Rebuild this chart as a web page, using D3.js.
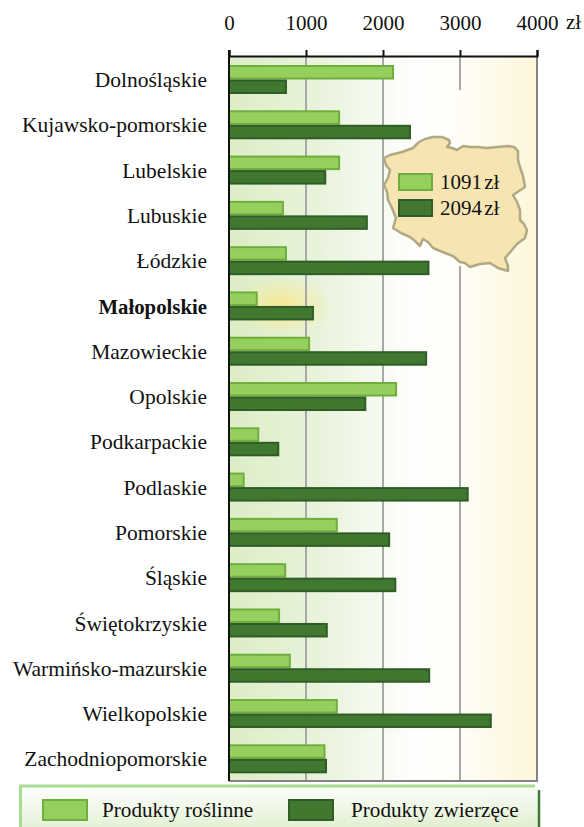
<!DOCTYPE html>
<html>
<head>
<meta charset="utf-8">
<script src="https://cdn.jsdelivr.net/npm/d3@7"></script>
<style>
  body { margin: 0; background: #fff; }
  text { font-family: "Liberation Serif", serif; fill: #111; }
</style>
</head>
<body>
<div id="chart"></div>
<script>
const regions = ['Dolnośląskie', 'Kujawsko-pomorskie', 'Lubelskie', 'Lubuskie', 'Łódzkie', 'Małopolskie',
  'Mazowieckie', 'Opolskie', 'Podkarpackie', 'Podlaskie', 'Pomorskie', 'Śląskie', 'Świętokrzyskie',
  'Warmińsko-mazurskie', 'Wielkopolskie', 'Zachodniopomorskie']
const seriesNames = ['Produkty roślinne', 'Produkty zwierzęce']
const plantValues = [2130, 1430, 1430, 700, 740, 360, 1040, 2170, 380, 190, 1400, 730, 650, 790, 1400, 1240]
const animalValues = [740, 2350, 1250, 1790, 2590, 1090, 2560, 1770, 640, 3100, 2080, 2160, 1270, 2600, 3400, 1260]
const ticks = [0, 1000, 2000, 3000, 4000]
const highlighted = 'Małopolskie'
const nationalValues = [1091, 2094]

// rough outline of the country, in page pixels
const polandOutline = [[384, 158], [390, 155], [402, 152], [413, 148], [419, 142], [425, 139], [433, 137], [442, 137],
  [449, 140], [450, 143], [447, 147], [452, 148], [457, 150], [463, 146], [470, 147], [478, 147], [487, 148], [497, 147],
  [508, 146], [514, 147], [518, 151], [518, 160], [520, 167], [523, 176], [525, 187], [519, 191], [513, 195], [517, 202],
  [520, 210], [520, 220], [524, 224], [527, 230], [525, 238], [517, 244], [512, 250], [505, 258], [508, 266], [508, 271],
  [498, 268], [490, 263], [480, 264], [470, 267], [465, 263], [460, 262], [453, 256], [445, 253], [433, 248], [428, 242],
  [423, 239], [420, 246], [415, 241], [410, 237], [401, 233], [393, 228], [396, 218], [392, 208], [388, 200], [387, 192],
  [384, 185], [388, 178], [390, 170], [386, 165]]

const colors = ['#95d05f', '#407830']
const strokes = ['#6fae3c', '#2f5c27']

const width = 584
const height = 827
const margin = { top: 56, left: 229, right: 47, bottom: 46 }

const svg = d3.select('#chart').append('svg')
  .attr('width', width)
  .attr('height', height)
  .style('display', 'block')

const xScale = d3.scaleLinear().domain([0, 4000]).range([margin.left, width - margin.right])
const yScale = d3.scaleBand().domain(regions).range([margin.top + 1, height - margin.bottom + 0.6])
const subScale = d3.scaleBand().domain(seriesNames).range([8, 37])

const defs = svg.append('defs')

const bgGrad = defs.append('linearGradient').attr('id', 'plot-bg')
bgGrad.append('stop').attr('offset', '0%').attr('stop-color', '#dcedc6')
bgGrad.append('stop').attr('offset', '30%').attr('stop-color', '#e9f3dc')
bgGrad.append('stop').attr('offset', '48%').attr('stop-color', '#f5faef')
bgGrad.append('stop').attr('offset', '60%').attr('stop-color', '#ffffff')
bgGrad.append('stop').attr('offset', '72%').attr('stop-color', '#fffef9')
bgGrad.append('stop').attr('offset', '100%').attr('stop-color', '#fdf6da')

const glowGrad = defs.append('radialGradient').attr('id', 'glow')
glowGrad.append('stop').attr('offset', '0%').attr('stop-color', '#fbe77a').attr('stop-opacity', 0.75)
glowGrad.append('stop').attr('offset', '55%').attr('stop-color', '#fbe98c').attr('stop-opacity', 0.4)
glowGrad.append('stop').attr('offset', '100%').attr('stop-color', '#fbe98c').attr('stop-opacity', 0)

const legendGrad = defs.append('linearGradient').attr('id', 'legend-bg')
  .attr('x1', 0).attr('y1', 0).attr('x2', 0.15).attr('y2', 1)
legendGrad.append('stop').attr('offset', '0%').attr('stop-color', '#ffffff')
legendGrad.append('stop').attr('offset', '100%').attr('stop-color', '#e2f0d2')

defs.append('clipPath').attr('id', 'plot-clip').append('rect')
  .attr('x', xScale(0))
  .attr('y', margin.top)
  .attr('width', xScale(4000) - xScale(0))
  .attr('height', height - margin.bottom - margin.top)

// background
svg.append('rect')
  .attr('x', xScale(0))
  .attr('y', margin.top)
  .attr('width', xScale(4000) - xScale(0))
  .attr('height', height - margin.bottom - margin.top)
  .attr('fill', 'url(#plot-bg)')

// glow behind the highlighted region
svg.append('g').attr('clip-path', 'url(#plot-clip)')
  .append('ellipse')
  .attr('cx', xScale(700))
  .attr('cy', yScale(highlighted) + yScale.bandwidth() / 2)
  .attr('rx', 50)
  .attr('ry', 30)
  .attr('fill', 'url(#glow)')

// grid lines, the 3000 one is broken around the map
const gridSegments = [
  { value: 1000, from: margin.top, to: height - margin.bottom },
  { value: 2000, from: margin.top, to: height - margin.bottom },
  { value: 3000, from: margin.top, to: 90 },
  { value: 3000, from: 266, to: height - margin.bottom }
]
svg.append('g')
  .selectAll('line')
  .data(gridSegments)
  .enter()
  .append('line')
  .attr('x1', d => xScale(d.value))
  .attr('x2', d => xScale(d.value))
  .attr('y1', d => d.from)
  .attr('y2', d => d.to)
  .attr('stroke', '#a8a8a8')
  .attr('stroke-width', 2)

// right and bottom frame
svg.append('path')
  .attr('d', `M${xScale(4000)},${margin.top}V${height - margin.bottom}H${xScale(0)}`)
  .attr('fill', 'none')
  .attr('stroke', '#858585')
  .attr('stroke-width', 2)

// bars
const rows = svg.append('g')
  .selectAll('g')
  .data(regions)
  .enter()
  .append('g')
  .attr('transform', d => `translate(0,${yScale(d)})`)

seriesNames.forEach((name, s) => {
  const values = s === 0 ? plantValues : animalValues
  rows.append('rect')
    .attr('x', xScale(0))
    .attr('y', subScale(name) + 1)
    .attr('width', (d, i) => xScale(values[i]) - xScale(0))
    .attr('height', subScale.bandwidth() - 2)
    .attr('fill', colors[s])
    .attr('stroke', strokes[s])
    .attr('stroke-width', 2)
})

// region labels
rows.append('text')
  .text(d => d)
  .attr('x', 207)
  .attr('y', yScale.bandwidth() / 2 + 7.5)
  .attr('text-anchor', 'end')
  .attr('font-size', d => (d === highlighted ? 20.8 : 21.5))
  .attr('font-weight', d => (d === highlighted ? 'bold' : 'normal'))

// top axis
const axisG = svg.append('g')
  .attr('transform', `translate(0,${margin.top})`)
  .call(d3.axisTop(xScale).tickValues(ticks).tickFormat(d3.format('d')).tickSize(6).tickPadding(20))
axisG.select('.domain').attr('stroke', '#111').attr('stroke-width', 2)
axisG.selectAll('.tick line').attr('stroke', '#111').attr('stroke-width', 2)
axisG.selectAll('.tick text')
  .attr('font-size', 21)
  .style('font-family', '"Liberation Serif", serif')
  .attr('fill', '#111')

svg.append('text')
  .text('zł')
  .attr('x', 566)
  .attr('y', 29)
  .attr('font-size', 21)

// left axis line
svg.append('line')
  .attr('x1', xScale(0))
  .attr('x2', xScale(0))
  .attr('y1', margin.top - 6)
  .attr('y2', height - margin.bottom)
  .attr('stroke', '#111')
  .attr('stroke-width', 2)

// map with national averages
svg.append('path')
  .datum(polandOutline)
  .attr('d', d3.line().curve(d3.curveLinearClosed))
  .attr('fill', '#f6e5b2')
  .attr('stroke', '#b0a983')
  .attr('stroke-width', 2.5)
  .attr('stroke-linejoin', 'round')

const mapLegend = svg.append('g')
  .selectAll('g')
  .data(nationalValues)
  .enter()
  .append('g')
  .attr('transform', (d, i) => `translate(399,${174 + i * 26})`)

mapLegend.append('rect')
  .attr('width', 33)
  .attr('height', 16)
  .attr('fill', (d, i) => colors[i])
  .attr('stroke', (d, i) => strokes[i])
  .attr('stroke-width', 2)

mapLegend.append('text')
  .text(d => d + ' zł')
  .attr('x', 41)
  .attr('y', 15)
  .attr('font-size', 21)
  .attr('word-spacing', -3)

// bottom legend
svg.append('rect')
  .attr('x', 20)
  .attr('y', 786)
  .attr('width', 518)
  .attr('height', 45)
  .attr('fill', 'url(#legend-bg)')

svg.append('path')
  .attr('d', 'M20.5,827V786H535')
  .attr('fill', 'none')
  .attr('stroke', '#a8dc90')
  .attr('stroke-width', 3)

svg.append('line')
  .attr('x1', 539)
  .attr('x2', 539)
  .attr('y1', 790)
  .attr('y2', 827)
  .attr('stroke', '#3f7a33')
  .attr('stroke-width', 2.5)

const legendX = d3.scaleOrdinal().domain(seriesNames).range([43, 289])
const legendTextX = d3.scaleOrdinal().domain(seriesNames).range([102, 351])

const legend = svg.append('g')
  .selectAll('g')
  .data(seriesNames)
  .enter()
  .append('g')

legend.append('rect')
  .attr('x', d => legendX(d))
  .attr('y', 800)
  .attr('width', 44)
  .attr('height', 20)
  .attr('fill', (d, i) => colors[i])
  .attr('stroke', (d, i) => strokes[i])
  .attr('stroke-width', 2)

legend.append('text')
  .text(d => d)
  .attr('x', d => legendTextX(d))
  .attr('y', 817)
  .attr('font-size', 21.2)
</script>
</body>
</html>
